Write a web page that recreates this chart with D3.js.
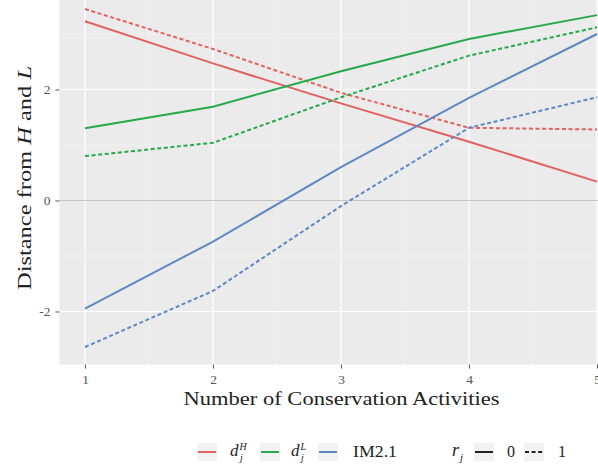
<!DOCTYPE html>
<html>
<head>
<meta charset="utf-8">
<script src="https://cdn.jsdelivr.net/npm/d3@7"></script>
<style>
  body { margin: 0; background: #fff; }
  svg { display: block; font-family: "Liberation Serif", "DejaVu Serif", serif; }
</style>
</head>
<body>
<div id="chart"></div>
<script>
// data
const activities = [1, 2, 3, 4, 5];
const dH_r0 = [3.23, 2.47, 1.75, 1.06, 0.34];
const dH_r1 = [3.45, 2.73, 1.94, 1.31, 1.28];
const dL_r0 = [1.30, 1.69, 2.33, 2.91, 3.34];
const dL_r1 = [0.80, 1.04, 1.86, 2.61, 3.12];
const im_r0 = [-1.95, -0.74, 0.60, 1.85, 3.00];
const im_r1 = [-2.64, -1.63, -0.10, 1.31, 1.86];
const yTicks = [-2, 0, 2];
const yMinor = [-1, 1, 3];
const xMinor = [1.5, 2.5, 3.5, 4.5];

const colours = { dH: "#E2625F", dL: "#25A94B", im: "#5D88C3" };

const series = [
  { key: "dH", r: 0, values: dH_r0 },
  { key: "dH", r: 1, values: dH_r1 },
  { key: "dL", r: 0, values: dL_r0 },
  { key: "dL", r: 1, values: dL_r1 },
  { key: "im", r: 0, values: im_r0 },
  { key: "im", r: 1, values: im_r1 }
];

const width = 598;
const height = 470;

let svg = d3.select("#chart")
  .append("svg")
  .attr("width", width)
  .attr("height", height);

//scales, with ggplot's 5% padding on each side
let xScale = d3.scaleLinear().domain([0.8, 5.2]).range([59.4, 622.6]);
let yScale = d3.scaleLinear().domain([-2.955, 3.755]).range([364.5, -7.9]);

const panelLeft = xScale(0.8), panelRight = xScale(5.2);
const panelTop = yScale(3.755), panelBottom = yScale(-2.955);

//panel background
svg.append("rect")
  .attr("x", panelLeft).attr("y", panelTop)
  .attr("width", panelRight - panelLeft).attr("height", panelBottom - panelTop)
  .attr("fill", "#EBEBEB");

//minor grid
svg.selectAll(".minor-y").data(yMinor).enter().append("line")
  .attr("x1", panelLeft).attr("x2", panelRight)
  .attr("y1", d => yScale(d)).attr("y2", d => yScale(d))
  .attr("stroke", "#F5F5F5").attr("stroke-width", 0.6);
svg.selectAll(".minor-x").data(xMinor).enter().append("line")
  .attr("y1", panelTop).attr("y2", panelBottom)
  .attr("x1", d => xScale(d)).attr("x2", d => xScale(d))
  .attr("stroke", "#F5F5F5").attr("stroke-width", 0.6);

//major grid
svg.selectAll(".major-y").data(yTicks).enter().append("line")
  .attr("x1", panelLeft).attr("x2", panelRight)
  .attr("y1", d => yScale(d)).attr("y2", d => yScale(d))
  .attr("stroke", "#FFFFFF").attr("stroke-width", 1.2);
svg.selectAll(".major-x").data(activities).enter().append("line")
  .attr("y1", panelTop).attr("y2", panelBottom)
  .attr("x1", d => xScale(d)).attr("x2", d => xScale(d))
  .attr("stroke", "#FFFFFF").attr("stroke-width", 1.2);

//zero reference line
svg.append("line")
  .attr("x1", panelLeft).attr("x2", panelRight)
  .attr("y1", yScale(0)).attr("y2", yScale(0))
  .attr("stroke", "#C4C4C4").attr("stroke-width", 1.1);

//lines
let line = d3.line()
  .x((d, i) => xScale(activities[i]))
  .y(d => yScale(d));

svg.selectAll(".series").data(series).enter().append("path")
  .attr("d", d => line(d.values))
  .attr("fill", "none")
  .attr("stroke", d => colours[d.key])
  .attr("stroke-width", 2)
  .attr("stroke-dasharray", d => d.r === 1 ? "4,2.6" : null);

//x axis
let xAxis = svg.append("g")
  .attr("transform", "translate(0," + panelBottom + ")")
  .call(d3.axisBottom(xScale).tickValues(activities).tickSize(4).tickPadding(6).tickFormat(d3.format("d")));
xAxis.select(".domain").remove();
xAxis.selectAll("line").attr("stroke", "#555");
xAxis.selectAll("text").attr("fill", "#555").style("font-size", "13.5px")
  .style("font-family", "Liberation Serif, serif");

//y axis
let yAxis = svg.append("g")
  .attr("transform", "translate(" + panelLeft + ",0)")
  .call(d3.axisLeft(yScale).tickValues(yTicks).tickSize(4).tickPadding(5).tickFormat(d => d));
yAxis.select(".domain").remove();
yAxis.selectAll("line").attr("stroke", "#555");
yAxis.selectAll("text").attr("fill", "#555").style("font-size", "13.5px")
  .style("font-family", "Liberation Serif, serif");

//axis titles
svg.append("text")
  .attr("x", 341.5).attr("y", 405)
  .attr("text-anchor", "middle")
  .attr("fill", "#222")
  .attr("textLength", 316)
  .attr("lengthAdjust", "spacingAndGlyphs")
  .style("font-size", "19px")
  .text("Number of Conservation Activities");

let yTitle = svg.append("text")
  .attr("transform", "translate(31,178) rotate(-90)")
  .attr("text-anchor", "middle")
  .attr("fill", "#222")
  .attr("textLength", 224)
  .attr("lengthAdjust", "spacingAndGlyphs")
  .style("font-size", "19px");
yTitle.append("tspan").text("Distance from ");
yTitle.append("tspan").style("font-style", "italic").text("H");
yTitle.append("tspan").text(" and ");
yTitle.append("tspan").style("font-style", "italic").text("L");

//legend
const legendY = 452;
const colourKeys = [
  { key: "dH", x: 198, base: "d", sup: "H", labelX: 230 },
  { key: "dL", x: 261, base: "d", sup: "L", labelX: 291 },
  { key: "im", x: 319, base: "IM2.1", sup: null, labelX: 353 }
];

let lg = svg.append("g");
colourKeys.forEach(k => {
  lg.append("rect").attr("x", k.x - 1).attr("y", legendY - 9)
    .attr("width", 20).attr("height", 18).attr("fill", "#F2F2F2");
  lg.append("line").attr("x1", k.x).attr("x2", k.x + 18)
    .attr("y1", legendY).attr("y2", legendY)
    .attr("stroke", colours[k.key]).attr("stroke-width", 2);
  if (k.sup) {
    lg.append("text").attr("x", k.labelX).attr("y", legendY + 4)
      .style("font-size", "17px").style("font-style", "italic").attr("fill", "#222").text(k.base);
    lg.append("text").attr("x", k.labelX + 9.5).attr("y", legendY - 2)
      .style("font-size", "10px").style("font-style", "italic").attr("fill", "#222").text(k.sup);
    lg.append("text").attr("x", k.labelX + 10).attr("y", legendY + 9)
      .style("font-size", "10px").style("font-style", "italic").attr("fill", "#222").text("j");
  } else {
    lg.append("text").attr("x", k.labelX).attr("y", legendY + 5)
      .attr("textLength", 44)
      .attr("lengthAdjust", "spacingAndGlyphs")
      .style("font-size", "16px").attr("fill", "#222").text(k.base);
  }
});

//r_j legend
const rKeys = [
  { r: 0, x: 475, label: "0", labelX: 507 },
  { r: 1, x: 525, label: "1", labelX: 558 }
];
lg.append("text").attr("x", 452).attr("y", legendY + 4)
  .style("font-size", "18px").style("font-style", "italic").attr("fill", "#222").text("r");
lg.append("text").attr("x", 460).attr("y", legendY + 9)
  .style("font-size", "11px").style("font-style", "italic").attr("fill", "#222").text("j");
rKeys.forEach(k => {
  lg.append("rect").attr("x", k.x - 1).attr("y", legendY - 9)
    .attr("width", 20).attr("height", 18).attr("fill", "#F2F2F2");
  lg.append("line").attr("x1", k.x).attr("x2", k.x + 18)
    .attr("y1", legendY).attr("y2", legendY)
    .attr("stroke", "#222").attr("stroke-width", 2)
    .attr("stroke-dasharray", k.r === 1 ? "4,2.6" : null);
  lg.append("text").attr("x", k.labelX).attr("y", legendY + 5)
    .style("font-size", "16px").attr("fill", "#222").text(k.label);
});
</script>
</body>
</html>
